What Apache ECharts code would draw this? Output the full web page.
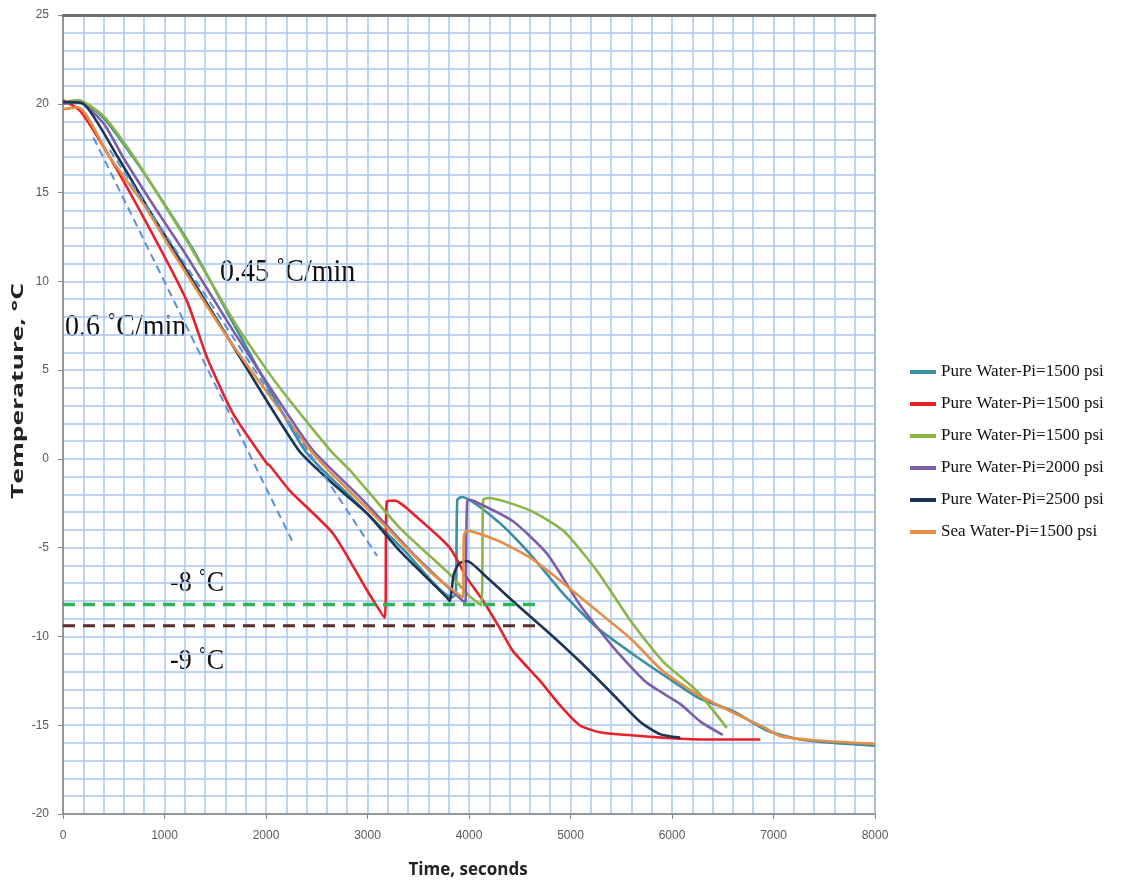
<!DOCTYPE html>
<html><head><meta charset="utf-8">
<script src="https://cdn.jsdelivr.net/npm/echarts@6/dist/echarts.min.js"></script>
<style>html,body{margin:0;padding:0;background:#fff}#c{width:1125px;height:884px}</style>
</head><body><div id="c"></div>
<script>
// ---- data (time in s, temperature in °C) ----
const xTicks = [0,1000,2000,3000,4000,5000,6000,7000,8000];
const yTicks = [-20,-15,-10,-5,0,5,10,15,20,25];
const seriesNames = ['Pure Water-Pi=1500 psi','Pure Water-Pi=1500 psi','Pure Water-Pi=1500 psi','Pure Water-Pi=2000 psi','Pure Water-Pi=2500 psi','Sea Water-Pi=1500 psi'];
const tealData = [[0,20.1],[150,20.2],[400,19.2],[690,17.0],[960,14.7],[1280,11.8],[1700,7.4],[2380,0.5],[2880,-2.4],[3370,-5.2],[3830,-7.8],[3870,-7.6],[3885,-2.3],[3930,-2.15],[4280,-3.5],[4600,-5.35],[4930,-7.6],[5260,-9.5],[5616,-11.0],[5950,-12.3],[6276,-13.5],[6600,-14.2],[6936,-15.3],[7260,-15.8],[7600,-16.0],[8000,-16.15]];
const redData = [[0,20.2],[170,19.6],[460,17.0],[860,12.9],[1220,8.9],[1420,5.7],[1675,2.55],[2010,-0.27],[2040,-0.4],[2236,-1.8],[2660,-4.2],[2995,-7.4],[3170,-8.95],[3190,-2.4],[3270,-2.35],[3490,-3.3],[3810,-5.0],[3980,-6.7],[4140,-8.0],[4300,-9.5],[4430,-10.8],[4700,-12.5],[4900,-13.9],[5090,-15.0],[5290,-15.4],[5780,-15.65],[6280,-15.8],[6870,-15.8]];
const greenData = [[0,20.1],[150,20.2],[400,19.3],[700,17.0],[1000,14.3],[1250,12.0],[1700,7.6],[2110,4.2],[2630,0.5],[2830,-0.66],[3320,-3.9],[3810,-6.5],[4000,-7.7],[4120,-8.25],[4140,-2.3],[4190,-2.2],[4600,-2.9],[4930,-4.05],[5260,-6.3],[5590,-9.1],[5910,-11.4],[6250,-13.1],[6540,-15.15]];
const purpleData = [[0,20.0],[150,20.1],[400,18.9],[590,17.0],[900,14.2],[1200,11.6],[1700,7.0],[2100,3.5],[2460,0.5],[2960,-2.35],[3450,-5.35],[3940,-8.0],[3965,-8.05],[3985,-2.3],[4040,-2.35],[4430,-3.5],[4770,-5.35],[5090,-8.2],[5420,-10.6],[5750,-12.6],[6080,-13.8],[6280,-14.8],[6500,-15.55]];
const navyData = [[0,20.1],[200,20.0],[540,17.0],[850,14.0],[1100,11.7],[1650,6.6],[2320,0.5],[2660,-1.4],[3000,-3.1],[3320,-5.2],[3780,-7.8],[3810,-8.0],[3850,-6.5],[3900,-5.9],[3980,-5.75],[4180,-6.7],[4470,-8.2],[4800,-9.86],[5090,-11.4],[5390,-13.1],[5685,-14.8],[5880,-15.5],[6080,-15.7]];
const orangeData = [[0,19.7],[150,19.8],[460,17.0],[800,14.3],[1070,11.75],[1650,6.6],[2440,0.47],[2660,-0.9],[3150,-3.65],[3645,-6.5],[3940,-7.8],[3950,-4.3],[3980,-4.05],[4280,-4.6],[4600,-5.55],[4930,-7.0],[5260,-8.55],[5590,-10.1],[5910,-11.95],[6250,-13.25],[6570,-14.2],[6900,-15.1],[7060,-15.6],[7400,-15.85],[8000,-16.05]];
const rate06Data = [[300,18.1],[2256,-4.6]];
const rate045Data = [[460,17.4],[3094,-5.46]];
const minus8Data = [[0,-8.2],[4650,-8.2]];
const minus9Data = [[0,-9.4],[4650,-9.4]];
const annotations = ['0.45 \u02DAC/min','0.6 \u02DAC/min','-8 \u02DAC','-9 \u02DAC'];

const colors = ['#3a8fa3','#e8202a','#8cb547','#7b5ea7','#1c3557','#e58f45'];
const mainData = [tealData, redData, greenData, purpleData, navyData, orangeData];
const ids = ['s0','s1','s2','s3','s4','s5'];

const chart = echarts.init(document.getElementById('c'));
const gridColor = '#a9c6ec';
const series = mainData.map((d,i)=>({
  name: ids[i], type:'line', data:d, showSymbol:false, symbol:'none',
  smooth:0.2,
  lineStyle:{color:colors[i], width:2.6}, itemStyle:{color:colors[i]}, z: 3
}));
series.push({type:'line', data:rate06Data, symbol:'none', lineStyle:{color:'#5b8fd6', width:2, type:[8,5]}, z:4});
series.push({type:'line', data:rate045Data, symbol:'none', lineStyle:{color:'#5b8fd6', width:2, type:[8,5]}, z:4});
series.push({type:'line', data:minus8Data, symbol:'none', lineStyle:{color:'#2db35b', width:3.5, type:[12,8]}, z:4});
series.push({type:'line', data:minus9Data, symbol:'none', lineStyle:{color:'#5c2b2b', width:3, type:[12,8]}, z:4});

const serif = '"Liberation Serif","Times New Roman",serif';
const sans = '"Liberation Sans",Arial,sans-serif';
chart.setOption({
  animation:false,
  backgroundColor:'#fff',
  grid:{left:63, right:250, top:15, bottom:70, show:true, borderColor:'#8a8a8a', borderWidth:1.5},
  legend:{
    data: ids, orient:'vertical', left:905, top:358, itemWidth:26, itemHeight:4, itemGap:14, icon:'rect',
    formatter: n => seriesNames[ids.indexOf(n)],
    textStyle:{fontFamily:serif, fontSize:17, color:'#111', lineHeight:18}
  },
  xAxis:[{
    type:'value', min:0, max:8000, interval:1000,
    axisLine:{show:true, onZero:false, lineStyle:{color:'#8a8a8a', width:1.5}},
    axisTick:{show:true, length:5, lineStyle:{color:'#8a8a8a'}},
    axisLabel:{color:'#5a5a5a', fontSize:12, margin:16, fontFamily:sans, formatter: v => String(v)},
    splitLine:{show:true, lineStyle:{color:gridColor, width:1.5}},
    minorTick:{show:false, splitNumber:5},
    minorSplitLine:{show:true, lineStyle:{color:gridColor, width:1.5}}
  },{
    type:'value', position:'top', min:0, max:8000, interval:1000,
    axisLine:{show:true, onZero:false, lineStyle:{color:'#707070', width:3}},
    axisTick:{show:false}, axisLabel:{show:false}, splitLine:{show:false}
  }],
  yAxis:{
    type:'value', min:-20, max:25, interval:5,
    axisLine:{show:true, onZero:false, lineStyle:{color:'#8a8a8a', width:1.5}},
    axisTick:{show:true, length:5, lineStyle:{color:'#8a8a8a'}},
    axisLabel:{color:'#5a5a5a', fontSize:12, margin:14, fontFamily:sans, formatter: v => String(v)},
    splitLine:{show:true, lineStyle:{color:gridColor, width:1.5}},
    minorTick:{show:false, splitNumber:5},
    minorSplitLine:{show:true, lineStyle:{color:gridColor, width:1.5}}
  },
  series: series,
  graphic:[
    {type:'text', x:220, y:256, scaleY:1.15, style:{text:annotations[0], font:'28px '+serif, fill:'#111'}},
    {type:'text', x:65, y:311, scaleY:1.15, style:{text:annotations[1], font:'28px '+serif, fill:'#111'}},
    {type:'text', x:170, y:568, scaleY:1.15, style:{text:annotations[2], font:'26px '+serif, fill:'#111'}},
    {type:'text', x:170, y:646, scaleY:1.15, style:{text:annotations[3], font:'26px '+serif, fill:'#111'}},
    {type:'text', x:18, y:391, rotation:Math.PI/2, scaleX:1.65, style:{text:'Temperature, \u00B0C', font:'bold 16px "Open Sans",Arial,sans-serif', fill:'#222', align:'center', verticalAlign:'middle'}},
    {type:'text', x:468, y:870, style:{text:'Time, seconds', font:'bold 17px "Open Sans",Arial,sans-serif', fill:'#222', align:'center', verticalAlign:'middle'}}
  ]
});
</script></body></html>
